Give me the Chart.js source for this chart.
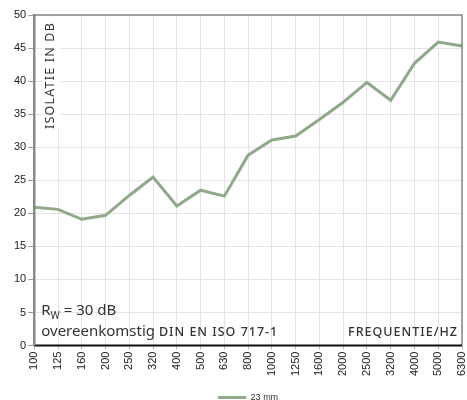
<!DOCTYPE html>
<html><head><meta charset="utf-8">
<script src="https://cdn.jsdelivr.net/npm/chart.js@4/dist/chart.umd.min.js"></script>
<style>html,body{margin:0;padding:0;background:#fff}#wrap{width:467px;height:400px}</style>
</head><body><div id="wrap"><canvas id="c" width="467" height="400"></canvas></div>
<script>
const categories = ["100","125","160","200","250","320","400","500","630","800","1000","1250","1600","2000","2500","3200","4000","5000","6300"];
const values23mm = [20.9,20.6,19.1,19.7,22.7,25.5,21.1,23.5,22.6,28.8,31.1,31.7,34.2,36.8,39.8,37.1,42.7,45.9,45.3];
const seriesName = "23 mm";
const yTicks = [0,5,10,15,20,25,30,35,40,45,50];

const textColor = '#333';
const annot = {
  id: 'annot',
  beforeDatasetsDraw(chart) {
    const {ctx, chartArea: a} = chart;
    ctx.save();
    ctx.fillStyle = '#fff';
    ctx.fillRect(a.left + 8, a.top + 2, 18, 110);
    ctx.translate(a.left + 16, a.top + 7);
    ctx.rotate(-Math.PI / 2);
    ctx.fillStyle = textColor;
    ctx.font = '12.5px "Noto Sans"';
    ctx.textAlign = 'right';
    ctx.textBaseline = 'middle';
    if (ctx.letterSpacing !== undefined) ctx.letterSpacing = '1.2px';
    ctx.fillText('ISOLATIE IN DB', 0, 0);
    ctx.restore();
  },
  afterDraw(chart) {
    const {ctx, chartArea: a} = chart;
    ctx.save();
    ctx.strokeStyle = '#888';
    ctx.lineWidth = 1.5;
    ctx.beginPath();
    ctx.moveTo(a.left, a.top); ctx.lineTo(a.right, a.top); ctx.lineTo(a.right, a.bottom);
    ctx.stroke();
    ctx.strokeStyle = '#111';
    ctx.lineWidth = 2;
    ctx.beginPath(); ctx.moveTo(a.left, a.bottom); ctx.lineTo(a.right, a.bottom); ctx.stroke();
    ctx.strokeStyle = '#888';
    ctx.lineWidth = 2.5;
    ctx.beginPath(); ctx.moveTo(a.left, a.top - 1); ctx.lineTo(a.left, a.bottom); ctx.stroke();

    ctx.fillStyle = textColor;
    ctx.textBaseline = 'alphabetic';
    ctx.textAlign = 'left';
    if (ctx.letterSpacing !== undefined) ctx.letterSpacing = '0px';
    let x = a.left + 7, y = a.bottom - 31;
    ctx.font = '15px "Noto Sans"';
    ctx.fillText('R', x, y);
    let w = ctx.measureText('R').width;
    ctx.font = '10px "Noto Sans"';
    ctx.fillText('W', x + w, y + 4);
    let w2 = ctx.measureText('W').width;
    ctx.font = '15px "Noto Sans"';
    ctx.fillText(' = 30 dB', x + w + w2, y);
    y = a.bottom - 10;
    ctx.font = '15px "Noto Sans"';
    ctx.fillText('overeenkomstig ', x, y);
    w = ctx.measureText('overeenkomstig ').width;
    ctx.font = '500 12.5px "Noto Sans"';
    if (ctx.letterSpacing !== undefined) ctx.letterSpacing = '1px';
    ctx.fillText('DIN EN ISO 717-1', x + w, y);
    ctx.textAlign = 'right';
    ctx.fillText('FREQUENTIE/HZ', a.right - 4, y);
    ctx.restore();
  }
};

new Chart(document.getElementById('c'), {
  type: 'line',
  data: {
    labels: categories,
    datasets: [{
      label: seriesName,
      data: values23mm,
      borderColor: '#8fa98a',
      backgroundColor: '#8fa98a',
      borderWidth: 3,
      pointRadius: 0,
      tension: 0,
      fill: false
    }]
  },
  options: {
    responsive: false,
    animation: false,
    layout: { padding: { left: 12, right: 5, top: 15, bottom: -12 } },
    plugins: {
      tooltip: { enabled: false },
      legend: {
        position: 'bottom',
        fullSize: false,
        labels: {
          usePointStyle: true,
          pointStyle: 'line',
          pointStyleWidth: 28,
          boxWidth: 28,
          padding: 6,
          color: '#333',
          font: { family: 'Liberation Sans, Arial', size: 9 }
        }
      }
    },
    scales: {
      x: {
        offset: false,
        afterFit(s) { s.height += 9; s.paddingRight = 0; s.paddingLeft = 0; },
        grid: { color: '#e4e4e4', tickLength: 4, tickColor: '#bbb' },
        border: { display: false },
        ticks: {
          color: '#222', maxRotation: 90, minRotation: 90, autoSkip: false, padding: 2,
          font: { family: 'Liberation Sans, Arial', size: 11 }
        }
      },
      y: {
        min: 0, max: 50,
        afterBuildTicks(s) { s.ticks = yTicks.map(v => ({ value: v })); },
        grid: { color: '#e4e4e4', tickLength: 6, tickColor: '#999' },
        border: { display: false },
        ticks: {
          color: '#222', padding: 2,
          font: { family: 'Liberation Sans, Arial', size: 11 }
        }
      }
    }
  },
  plugins: [annot]
});
</script>
</body></html>
